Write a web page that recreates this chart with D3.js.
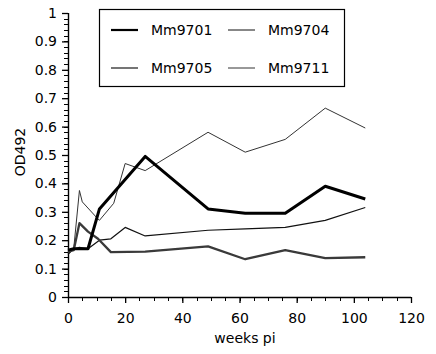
<!DOCTYPE html>
<html><head><meta charset="utf-8">
<script src="https://cdn.jsdelivr.net/npm/d3@7"></script>
<style>body{margin:0;background:#fff}svg{display:block}</style>
</head><body>
<svg id="c" width="436" height="354"></svg>
<script>
const seriesNames = ["Mm9701","Mm9704","Mm9705","Mm9711"];
const weeks9701 = [0,2,4,7,11,27,49,62,76,90,104];
const od9701    = [0.165,0.17,0.17,0.17,0.31,0.495,0.31,0.295,0.295,0.39,0.345];
const weeks9704 = [0,2,4,7,11,15,20,27,49,62,76,90,104];
const od9704    = [0.15,0.17,0.175,0.17,0.2,0.205,0.245,0.215,0.235,0.24,0.245,0.27,0.315];
const weeks9705 = [0,2,4,7,10.5,15,27,49,62,76,90,104];
const od9705    = [0.16,0.165,0.26,0.23,0.205,0.158,0.16,0.178,0.133,0.165,0.137,0.14];
const weeks9711 = [0,2,4,5,10,11,16,20,27,49,62,76,90,104];
const od9711    = [0.155,0.17,0.375,0.335,0.28,0.27,0.33,0.47,0.445,0.58,0.51,0.555,0.665,0.595];
const xTicks = [0,20,40,60,80,100,120];
const yTicks = [0,0.1,0.2,0.3,0.4,0.5,0.6,0.7,0.8,0.9,1];

const svg = d3.select("#c");
const x = d3.scaleLinear().domain([0,120]).range([68,411]);
const y = d3.scaleLinear().domain([0,1]).range([297,13]);
const font = "DejaVu Sans, sans-serif";

const styles = {
  Mm9701:{w:3,c:"#000"},
  Mm9705:{w:2.3,c:"#3a3a3a"},
  Mm9704:{w:1.2,c:"#111"},
  Mm9711:{w:1,c:"#333"}
};
const data = {
  Mm9701: weeks9701.map((w,i)=>[w,od9701[i]]),
  Mm9704: weeks9704.map((w,i)=>[w,od9704[i]]),
  Mm9705: weeks9705.map((w,i)=>[w,od9705[i]]),
  Mm9711: weeks9711.map((w,i)=>[w,od9711[i]])
};

// minor ticks
const yMinor = d3.range(0,51).map(i=>i*0.02);
svg.append("g").selectAll("line").data(yMinor).join("line")
  .attr("x1",64).attr("x2",68).attr("y1",d=>Math.round(y(d))+0.5).attr("y2",d=>Math.round(y(d))+0.5)
  .attr("stroke","#000").attr("stroke-width",1);
const xMinor = d3.range(0,25).map(i=>i*5);
svg.append("g").selectAll("line").data(xMinor).join("line")
  .attr("y1",297).attr("y2",301).attr("x1",d=>Math.round(x(d))+0.5).attr("x2",d=>Math.round(x(d))+0.5)
  .attr("stroke","#000").attr("stroke-width",1);

// axes
const yAxis = d3.axisLeft(y).tickValues(yTicks).tickFormat(d=>d3.format("~g")(d)).tickSize(6).tickPadding(5);
const gy = svg.append("g").attr("transform","translate(68,0)").call(yAxis);
const xAxis = d3.axisBottom(x).tickValues(xTicks).tickSize(6).tickPadding(10);
const gx = svg.append("g").attr("transform","translate(0,297)").call(xAxis);
svg.selectAll(".domain").attr("stroke","#000").attr("stroke-width",1.4);
svg.selectAll(".tick line").attr("stroke","#000").attr("stroke-width",1.3);
svg.selectAll(".tick text").attr("font-family",font).attr("font-size",14).attr("fill","#000");
gy.select(".domain").attr("d",`M0.5,${y(0)}V${y(1)}`);
gx.select(".domain").attr("d",`M${x(0)},0.5H${x(120)}`);

svg.append("text").attr("x",245).attr("y",343).attr("text-anchor","middle")
  .attr("font-family",font).attr("font-size",14).text("weeks pi");
svg.append("text").attr("transform","translate(25,152) rotate(-90)").attr("text-anchor","middle")
  .attr("font-family",font).attr("font-size",14).text("OD492");

// lines
const line = d3.line().x(d=>x(d[0])).y(d=>y(d[1]));
["Mm9711","Mm9704","Mm9705","Mm9701"].forEach(n=>{
  svg.append("path").datum(data[n]).attr("d",line).attr("fill","none")
    .attr("stroke",styles[n].c).attr("stroke-width",styles[n].w).attr("stroke-linejoin","round");
});

// legend
svg.append("rect").attr("x",99.5).attr("y",9.5).attr("width",245).attr("height",77)
  .attr("fill","#fff").attr("stroke","#000").attr("stroke-width",1.2);
const legPos = {Mm9701:[111,30],Mm9705:[111,68],Mm9704:[228,30],Mm9711:[228,68]};
seriesNames.forEach(n=>{
  const [lx,ly]=legPos[n];
  svg.append("line").attr("x1",lx).attr("x2",lx+27).attr("y1",ly).attr("y2",ly)
    .attr("stroke",styles[n].c).attr("stroke-width",n==="Mm9701"?2.2:(n==="Mm9705"?1.4:1));
  svg.append("text").attr("x",lx+40).attr("y",ly+5).attr("font-family",font).attr("font-size",14).text(n);
});
</script>
</body></html>
